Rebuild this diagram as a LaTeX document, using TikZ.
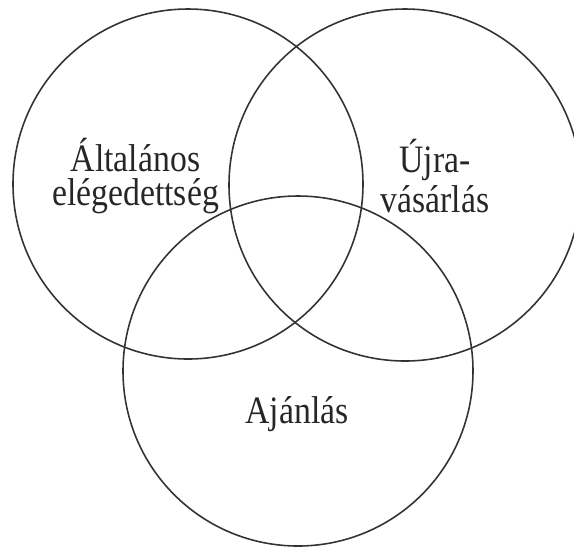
\documentclass[tikz,border=0pt]{standalone}
\usepackage{fontspec}
\setmainfont{Liberation Serif}
\usetikzlibrary{positioning}

\tikzset{
  ring/.style={draw=black!80, line width=0.45pt},
  label/.style={font=\fontsize{9.6}{8.3}\selectfont, align=center, text=black!85,
    yscale=1.15, transform shape}
}

\begin{document}
\begin{tikzpicture}
\useasboundingbox (0,0) rectangle (5.74,5.47);

% Circles
\coordinate (sat) at (1.88, 3.63);
\coordinate (rep) at (4.05, 3.62);
\coordinate (rec) at (2.98, 1.76);
\draw[ring] (sat) circle (1.75);
\draw[ring] (rep) circle (1.76);
\draw[ring] (rec) circle (1.75);

% Labels
\node[label] (satlabel) at (1.355, 3.71) {Általános\\elégedettség};
\node[label] (replabel) at (4.35, 3.71) {Újra-\\vásárlás};
\node[label] (reclabel) at (2.97, 1.33) {Ajánlás};
\end{tikzpicture}
\end{document}
